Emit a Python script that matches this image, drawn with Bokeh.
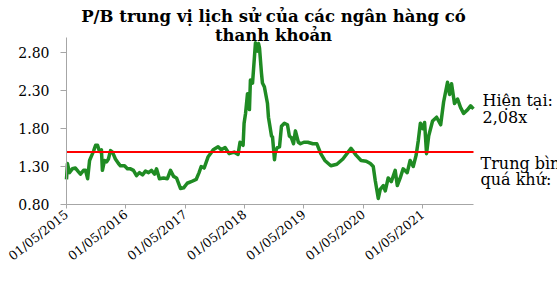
import pandas as pd
from bokeh.plotting import figure
from bokeh.models import (Range1d, FixedTicker, DatetimeTickFormatter, Label,
                          ColumnDataSource, NumeralTickFormatter)
from bokeh.embed import file_html
from bokeh.resources import INLINE

title_lines = ["P/B trung vị lịch sử của các ngân hàng có", "thanh khoản"]
current_text = ["Hiện tại:", "2,08x"]
mean_text = ["Trung bình", "quá khứ:"]
historical_mean = 1.49

dates = [
    "2015-05-01", "2015-05-07", "2015-05-19", "2015-06-06", "2015-06-25", "2015-07-14",
    "2015-07-26", "2015-08-14", "2015-08-26", "2015-09-08", "2015-09-20", "2015-10-02",
    "2015-10-14", "2015-10-27", "2015-11-08", "2015-11-20", "2015-12-02", "2015-12-08",
    "2015-12-21", "2016-01-02", "2016-01-14", "2016-01-27", "2016-02-08", "2016-02-26",
    "2016-03-16", "2016-03-28", "2016-04-22", "2016-05-10", "2016-05-29", "2016-06-16",
    "2016-07-05", "2016-07-23", "2016-08-11", "2016-08-29", "2016-09-17", "2016-10-05",
    "2016-10-24", "2016-11-05", "2016-11-23", "2016-12-18", "2017-01-11", "2017-01-30",
    "2017-02-18", "2017-03-08", "2017-04-02", "2017-04-21", "2017-05-13", "2017-06-06",
    "2017-07-07", "2017-07-25", "2017-08-07", "2017-08-25", "2017-09-19", "2017-10-20",
    "2017-11-19", "2017-12-08", "2018-01-01", "2018-01-26", "2018-02-26", "2018-03-22",
    "2018-04-03", "2018-04-22", "2018-04-28", "2018-05-07", "2018-05-19", "2018-05-31",
    "2018-06-06", "2018-06-19", "2018-07-01", "2018-07-07", "2018-07-19", "2018-07-26",
    "2018-08-01", "2018-08-13", "2018-08-19", "2018-08-31", "2018-09-13", "2018-09-19",
    "2018-09-25", "2018-10-01", "2018-10-14", "2018-10-20", "2018-11-01", "2018-11-07",
    "2018-11-19", "2018-12-02", "2018-12-14", "2019-01-01", "2019-01-20", "2019-02-01",
    "2019-02-13", "2019-02-26", "2019-03-10", "2019-03-28", "2019-04-10", "2019-05-01",
    "2019-05-25", "2019-06-25", "2019-07-20", "2019-08-13", "2019-09-07", "2019-10-14",
    "2019-11-20", "2019-12-27", "2020-02-15", "2020-03-17", "2020-04-17", "2020-05-19",
    "2020-06-13", "2020-07-01", "2020-07-13", "2020-08-01", "2020-08-13", "2020-09-01",
    "2020-09-13", "2020-10-01", "2020-10-20", "2020-11-13", "2020-11-26", "2020-12-14",
    "2021-01-01", "2021-01-26", "2021-02-13", "2021-03-04", "2021-03-22", "2021-04-04",
    "2021-04-17", "2021-05-01", "2021-05-13", "2021-05-25", "2021-06-07", "2021-07-01",
    "2021-07-26", "2021-08-20", "2021-09-07", "2021-10-01", "2021-10-14", "2021-10-26",
    "2021-11-13", "2021-12-02", "2021-12-20", "2022-01-08", "2022-02-02", "2022-02-20",
    "2022-03-10",
]
pb = [
    1.13, 1.34, 1.22, 1.27, 1.28, 1.23,
    1.20, 1.25, 1.25, 1.14, 1.38, 1.44,
    1.50, 1.58, 1.58, 1.50, 1.52, 1.25,
    1.38, 1.36, 1.40, 1.51, 1.49, 1.40,
    1.34, 1.31, 1.31, 1.27, 1.27, 1.25,
    1.18, 1.22, 1.19, 1.24, 1.22, 1.25,
    1.20, 1.27, 1.14, 1.15, 1.14, 1.25,
    1.17, 1.15, 1.01, 1.02, 1.08, 1.10,
    1.13, 1.22, 1.30, 1.28, 1.43, 1.52,
    1.56, 1.52, 1.55, 1.47, 1.49, 1.46,
    1.62, 1.58, 1.87, 2.00, 2.26, 2.05,
    2.44, 2.40, 2.75, 2.93, 2.82, 2.92,
    2.86, 2.53, 2.40, 2.35, 2.20, 2.13,
    1.95, 1.87, 1.70, 1.69, 1.39, 1.50,
    1.55, 1.56, 1.83, 1.87, 1.85, 1.70,
    1.68, 1.60, 1.77, 1.62, 1.60, 1.62,
    1.62, 1.60, 1.60, 1.47, 1.38, 1.31,
    1.33, 1.40, 1.54, 1.45, 1.38, 1.37,
    1.34, 1.30, 1.12, 0.88, 1.00, 1.05,
    0.98, 1.15, 1.10, 1.25, 1.05, 1.15,
    1.27, 1.22, 1.38, 1.30, 1.45, 1.64,
    1.87, 1.80, 1.88, 1.47, 1.70, 1.90,
    1.95, 1.85, 2.15, 2.41, 2.25, 2.39,
    2.13, 2.19, 2.08, 2.00, 2.05, 2.10,
    2.06,
]

x_tick_dates = ["2015-05-01", "2016-05-01", "2017-05-01", "2018-05-01",
                "2019-05-01", "2020-05-01", "2021-05-01"]
y_ticks = [0.8, 1.3, 1.8, 2.3, 2.8]
x_start, x_end = "2015-05-01", "2022-03-10"
y_start, y_end = 0.8, 3.0

# ---- layout (pixels) ----
W, H = 557, 284
PL, PR, PT, PB = 66, 473, 37, 204      # plot-area edges on the canvas
FONT = "DejaVu Serif"

x0 = pd.Timestamp(x_start).value / 1e6
x1 = pd.Timestamp(x_end).value / 1e6
ms_per_px = (x1 - x0) / (PR - PL)
u_per_px = (y_end - y_start) / (PB - PT)
xr = Range1d(x0 - PL * ms_per_px, x1 + (W - PR) * ms_per_px)
yr = Range1d(y_start - (H - PB) * u_per_px, y_end + PT * u_per_px)

src = ColumnDataSource(dict(date=pd.to_datetime(dates), pb=pb))

p = figure(width=W, height=H, x_axis_type="datetime", output_backend="svg",
           toolbar_location=None, title=None, x_range=xr, y_range=yr)
p.min_border = 0
p.min_border_left = p.min_border_right = p.min_border_top = p.min_border_bottom = 0
p.outline_line_color = None
p.xgrid.grid_line_color = None
p.ygrid.grid_line_color = None
p.background_fill_color = "white"
p.border_fill_color = "white"

p.line("date", "pb", source=src, line_width=3.5, line_color="#1f8b23", line_join="round")
p.line(x=[x0, x1], y=[historical_mean, historical_mean],
       line_color="#ff0000", line_width=2)

xt = [pd.Timestamp(d).value / 1e6 for d in x_tick_dates]
p.xaxis.ticker = FixedTicker(ticks=xt)
fmt = "%d/%m/%Y"
p.xaxis.formatter = DatetimeTickFormatter(
    milliseconds=fmt, seconds=fmt, minsec=fmt, minutes=fmt, hourmin=fmt,
    hours=fmt, days=fmt, months=fmt, years=fmt)
p.xaxis.major_label_orientation = 0.675
p.yaxis.ticker = FixedTicker(ticks=y_ticks)
p.yaxis.formatter = NumeralTickFormatter(format="0.00")

p.xaxis.fixed_location = y_start
p.xaxis.bounds = (x0, x1)
p.yaxis.fixed_location = x0
p.yaxis.bounds = (y_start, y_end)

for ax in (p.xaxis[0], p.yaxis[0]):
    ax.axis_line_color = "#a6a6a6"
    ax.axis_line_width = 1
    ax.major_tick_line_color = "#a6a6a6"
    ax.minor_tick_line_color = None
    ax.major_tick_in = 0
    ax.major_label_text_font = FONT
    ax.major_label_text_color = "#000000"
p.xaxis.major_label_text_font_size = "12.5px"
p.yaxis.major_label_text_font_size = "14px"
p.xaxis.major_tick_out = 4
p.xaxis.major_label_standoff = 4
p.yaxis.major_tick_out = 6
p.yaxis.major_label_standoff = 11

def add_text(txt, x, y_from_top, size, bold=False, align="left"):
    p.add_layout(Label(x=x, y=H - y_from_top, x_units="screen", y_units="screen",
                       text=txt, text_font=FONT, text_font_size=size,
                       text_font_style="bold" if bold else "normal",
                       text_color="#000000", text_align=align,
                       text_baseline="alphabetic"))

add_text(title_lines[0], 273, 16, "16.5px", bold=True, align="center")
add_text(title_lines[1], 273, 34.5, "16.5px", bold=True, align="center")
add_text(current_text[0], 482, 100, "16px")
add_text(current_text[1], 482, 117, "16px")
add_text(mean_text[0], 480, 163, "16px")
add_text(mean_text[1], 480, 178.5, "16px")

open("out.html", "w").write(file_html(p, INLINE))
